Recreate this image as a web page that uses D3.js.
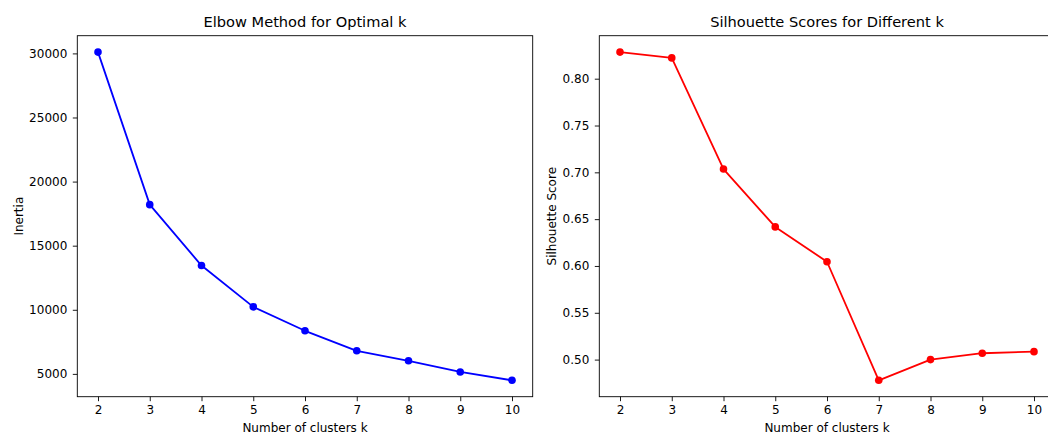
<!DOCTYPE html>
<meta charset="utf-8">
<script src="https://d3js.org/d3.v7.min.js"></script>
<style>
  body { margin: 0; background: #fff; }
  text { font-family: "DejaVu Sans", sans-serif; }
</style>
<div id="my_dataviz"></div>

<script>
// data
const kValues = [2, 3, 4, 5, 6, 7, 8, 9, 10];
const inertia = [30100, 18200, 13450, 10230, 8360, 6800, 6020, 5150, 4500];
const silhouette = [0.8284, 0.8222, 0.7035, 0.6417, 0.6045, 0.4779, 0.5000, 0.5068, 0.5085];
const inertiaTicks = [5000, 10000, 15000, 20000, 25000, 30000];
const silTicks = [0.50, 0.55, 0.60, 0.65, 0.70, 0.75, 0.80];

const W = 1048, H = 435;
const axTop = 35.7, axBottom = 396.7, axW = 455.4;

const svg = d3.select("#my_dataviz")
  .append("svg")
    .attr("width", W)
    .attr("height", H);

// matplotlib-like 5% margins
function padded(vals) {
  const lo = d3.min(vals), hi = d3.max(vals), r = hi - lo;
  return [lo - 0.05 * r, hi + 0.05 * r];
}

function drawPanel(opts) {
  const g = svg.append("g").attr("transform", `translate(${opts.left}, 0)`);

  const x = d3.scaleLinear().domain(padded(kValues)).range([0, axW]);
  const y = d3.scaleLinear().domain(padded(opts.values)).range([axBottom, axTop]);

  // x axis
  const xa = g.append("g")
    .attr("transform", `translate(0, ${axBottom})`)
    .call(d3.axisBottom(x).tickValues(kValues).tickFormat(d3.format("d"))
      .tickSize(4.5).tickSizeOuter(0).tickPadding(4.5));
  xa.select(".domain").remove();
  xa.selectAll("line").attr("stroke", "#000").attr("stroke-width", 0.9);
  xa.selectAll("text").attr("fill", "#000").style("font-size", "12px");

  // y axis
  const ya = g.append("g")
    .call(d3.axisLeft(y).tickValues(opts.ticks).tickFormat(opts.fmt)
      .tickSize(4.5).tickSizeOuter(0).tickPadding(5.5));
  ya.select(".domain").remove();
  ya.selectAll("line").attr("stroke", "#000").attr("stroke-width", 0.9);
  ya.selectAll("text").attr("fill", "#000").style("font-size", "12px");

  // line + markers
  const pts = kValues.map((k, i) => [k, opts.values[i]]);
  g.append("path")
    .datum(pts)
    .attr("fill", "none")
    .attr("stroke", opts.color)
    .attr("stroke-width", 1.8)
    .attr("stroke-linejoin", "round")
    .attr("d", d3.line().x(d => x(d[0])).y(d => y(d[1])));

  g.selectAll(null)
    .data(pts)
    .join("circle")
      .attr("cx", d => x(d[0]))
      .attr("cy", d => y(d[1]))
      .attr("r", 3.8)
      .attr("fill", opts.color);

  // frame
  g.append("rect")
    .attr("x", 0).attr("y", axTop)
    .attr("width", axW).attr("height", axBottom - axTop)
    .attr("fill", "none")
    .attr("stroke", "#000")
    .attr("stroke-width", 0.9);

  // title and labels
  g.append("text")
    .attr("x", axW / 2).attr("y", 27)
    .attr("text-anchor", "middle")
    .style("font-size", "14.6px")
    .text(opts.title);

  g.append("text")
    .attr("x", axW / 2).attr("y", 432)
    .attr("text-anchor", "middle")
    .style("font-size", "12px")
    .text("Number of clusters k");

  g.append("text")
    .attr("transform", `translate(${opts.ylabelX}, ${(axTop + axBottom) / 2}) rotate(-90)`)
    .attr("text-anchor", "middle")
    .style("font-size", "12px")
    .text(opts.ylabel);
}

drawPanel({
  left: 77.3,
  values: inertia,
  ticks: inertiaTicks,
  fmt: d3.format("d"),
  color: "#0000ff",
  title: "Elbow Method for Optimal k",
  ylabel: "Inertia",
  ylabelX: 23 - 77.3
});

drawPanel({
  left: 599.3,
  values: silhouette,
  ticks: silTicks,
  fmt: d3.format(".2f"),
  color: "#ff0000",
  title: "Silhouette Scores for Different k",
  ylabel: "Silhouette Score",
  ylabelX: 556 - 599.3
});
</script>
